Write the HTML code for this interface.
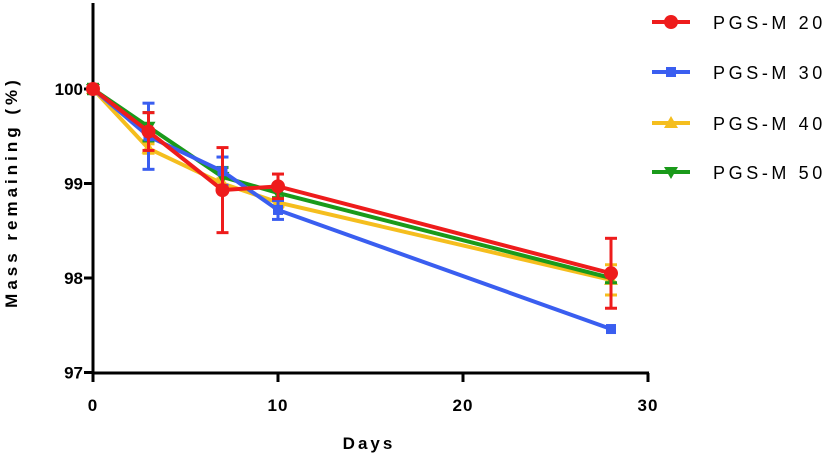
<!DOCTYPE html>
<html><head><meta charset="utf-8"><style>
html,body{margin:0;padding:0;background:#fff;}
svg{display:block;font-family:"Liberation Sans",sans-serif;}
</style></head><body>
<svg id="chart" width="831" height="457" xmlns="http://www.w3.org/2000/svg"></svg>
<script>
const days = [0, 3, 7, 10, 28];
const seriesNames = ["PGS-M 20", "PGS-M 30", "PGS-M 40", "PGS-M 50"];
const red = [100, 99.55, 98.93, 98.97, 98.05];
const redErr = [0.03, 0.2, 0.45, 0.13, 0.37];
const blue = [100, 99.5, 99.13, 98.72, 97.46];
const blueErr = [0.03, 0.35, 0.15, 0.1, 0];
const yellow = [100, 99.37, 99.0, 98.8, 97.98];
const yellowErr = [0.03, 0.05, 0.05, 0.05, 0.16];
const green = [100, 99.6, 99.07, 98.9, 98.0];
const greenErr = [0.05, 0.15, 0.1, 0.05, 0.05];
const xTicks = [0, 10, 20, 30];
const yTicks = [97, 98, 99, 100];

const NS = "http://www.w3.org/2000/svg";
const svg = document.getElementById("chart");
const X = d => 93 + d * 18.5;
const Y = v => 89 + (100 - v) * 94.5;
function el(tag, attrs, parent) {
  const e = document.createElementNS(NS, tag);
  for (const k in attrs) e.setAttribute(k, attrs[k]);
  (parent || svg).appendChild(e);
  return e;
}
let a = el("line", {x1: 93, y1: 3, x2: 93, y2: 374, stroke: "#000", "stroke-width": 3});


a = el("line", {x1: 91.5, y1: 373, x2: 649, y2: 373, stroke: "#000", "stroke-width": 3});


xTicks.forEach(t => {
  el("line", {x1: X(t), y1: 373, x2: X(t), y2: 382, stroke: "#000", "stroke-width": 3});
  const tx = el("text", {x: X(t), y: 411, "text-anchor": "middle", "font-size": 17, "font-weight": "bold", "letter-spacing": 1});
  tx.textContent = t;
  
  
});
yTicks.forEach(t => {
  el("line", {x1: 84, y1: Y(t), x2: 93, y2: Y(t), stroke: "#000", "stroke-width": 3});
  const tx = el("text", {x: 83, y: Y(t) + 6, "text-anchor": "end", "font-size": 17, "font-weight": "bold"});
  tx.textContent = t;
  
  
});
let t = el("text", {x: 369, y: 449, "text-anchor": "middle", "font-size": 17, "font-weight": "bold", "letter-spacing": 3});
t.textContent = "Days";


t = el("text", {x: 0, y: 0, "text-anchor": "middle", "font-size": 17, "font-weight": "bold", "letter-spacing": 4, transform: "translate(17,192) rotate(-90)"});
t.textContent = "Mass remaining (%)";



function marker(shape, x, y, color, g) {
  if (shape === "circle") return el("circle", {cx: x, cy: y, r: 7, fill: color}, g);
  if (shape === "square") return el("rect", {x: x - 5, y: y - 5, width: 10, height: 10, fill: color}, g);
  if (shape === "up") return el("polygon", {points: `${x},${y-7} ${x+7},${y+5} ${x-7},${y+5}`, fill: color}, g);
  return el("polygon", {points: `${x},${y+7} ${x+7},${y-5} ${x-7},${y-5}`, fill: color}, g);
}
const series = [
  {vals: yellow, err: yellowErr, color: "#f5be1e", shape: "up", name: "pgs-m-40"},
  {vals: green, err: greenErr, color: "#1a9a1a", shape: "down", name: "pgs-m-50"},
  {vals: blue, err: blueErr, color: "#3a5ef0", shape: "square", name: "pgs-m-30"},
  {vals: red, err: redErr, color: "#ee1c1c", shape: "circle", name: "pgs-m-20"}
];
series.forEach(s => {
  const g = el("g", {});
  
  
  el("polyline", {points: days.map((d, i) => X(d) + "," + Y(s.vals[i])).join(" "), fill: "none", stroke: s.color, "stroke-width": 4}, g);
  days.forEach((d, i) => {
    const e = s.err[i];
    if (e > 0) {
      const x = X(d), y1 = Y(s.vals[i] + e), y2 = Y(s.vals[i] - e);
      el("line", {x1: x, y1: y1, x2: x, y2: y2, stroke: s.color, "stroke-width": 3}, g);
      el("line", {x1: x - 6, y1: y1, x2: x + 6, y2: y1, stroke: s.color, "stroke-width": 3}, g);
      el("line", {x1: x - 6, y1: y2, x2: x + 6, y2: y2, stroke: s.color, "stroke-width": 3}, g);
    }
    const m = marker(s.shape, X(d), Y(s.vals[i]), s.color, g);
    
    
  });
});
const legend = [
  {color: "#ee1c1c", shape: "circle", y: 22},
  {color: "#3a5ef0", shape: "square", y: 72},
  {color: "#f5be1e", shape: "up", y: 123},
  {color: "#1a9a1a", shape: "down", y: 172}
];
legend.forEach((l, i) => {
  const g = el("g", {});
  
  
  el("line", {x1: 652, y1: l.y, x2: 690, y2: l.y, stroke: l.color, "stroke-width": 4}, g);
  marker(l.shape, 671, l.y, l.color, g);
  const tx = el("text", {x: 713, y: l.y + 7, "font-size": 18, "letter-spacing": 3.6}, g);
  tx.textContent = seriesNames[i];
});
</script>
</body></html>
